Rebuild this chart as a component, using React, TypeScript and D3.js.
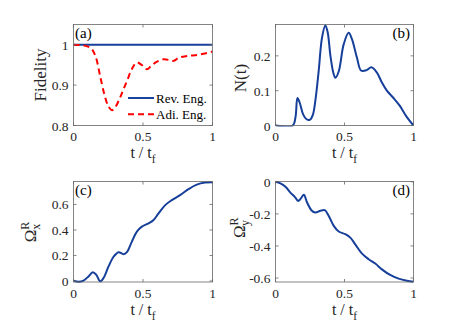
import React from "react";
import * as d3 from "d3";

// panel (a) fidelity
const tA = [0, 0.05, 0.1, 0.13, 0.16, 0.19, 0.22, 0.25, 0.276, 0.3, 0.33, 0.36, 0.39, 0.42, 0.456, 0.49, 0.528, 0.56, 0.6, 0.65, 0.7, 0.72, 0.76, 0.82, 0.9, 1];
const adiF = [1, 0.999, 0.996, 0.99, 0.97, 0.925, 0.88, 0.848, 0.838, 0.845, 0.865, 0.89, 0.915, 0.94, 0.956, 0.95, 0.939, 0.948, 0.958, 0.964, 0.961, 0.96, 0.968, 0.972, 0.975, 0.983];
const revT = [0, 1];
const revF = [1, 1];

// panel (b) N(t)
const tB = [0, 0.125, 0.145, 0.159, 0.175, 0.2, 0.225, 0.248, 0.27, 0.29, 0.313, 0.337, 0.361, 0.378, 0.398, 0.42, 0.434, 0.458, 0.494, 0.53, 0.554, 0.59, 0.62, 0.66, 0.694, 0.735, 0.77, 0.807, 0.855, 0.9, 0.952, 1];
const nB = [0, 0, 0.024, 0.079, 0.066, 0.032, 0.018, 0.016, 0.03, 0.075, 0.157, 0.252, 0.287, 0.268, 0.2, 0.15, 0.137, 0.155, 0.233, 0.266, 0.248, 0.195, 0.158, 0.159, 0.167, 0.152, 0.124, 0.1, 0.079, 0.057, 0.024, 0];

// panel (c) Omega_x^R
const tC = [0, 0.036, 0.072, 0.108, 0.139, 0.163, 0.192, 0.216, 0.252, 0.288, 0.324, 0.36, 0.384, 0.42, 0.456, 0.492, 0.54, 0.576, 0.612, 0.66, 0.707, 0.767, 0.827, 0.887, 0.947, 1];
const oxC = [0.003, -0.006, 0.003, 0.036, 0.068, 0.05, -0.003, 0.023, 0.114, 0.19, 0.226, 0.21, 0.226, 0.309, 0.387, 0.426, 0.452, 0.478, 0.53, 0.595, 0.634, 0.673, 0.72, 0.756, 0.772, 0.775];

// panel (d) Omega_y^R
const tD = [0, 0.036, 0.072, 0.108, 0.14, 0.164, 0.18, 0.205, 0.229, 0.26, 0.289, 0.325, 0.357, 0.386, 0.422, 0.458, 0.506, 0.542, 0.578, 0.627, 0.675, 0.723, 0.771, 0.831, 0.892, 0.952, 1];
const oyD = [0, -0.01, -0.031, -0.067, -0.094, -0.119, -0.108, -0.081, -0.129, -0.177, -0.192, -0.181, -0.177, -0.213, -0.275, -0.31, -0.327, -0.348, -0.39, -0.448, -0.483, -0.51, -0.546, -0.581, -0.604, -0.617, -0.623];

const xTicks = [0, 0.5, 1];
const blue = "#163f9a";
const red = "#ff0000";
const axisColor = "#666";
const font = "'Liberation Serif', 'Times New Roman', serif";

type Series = { t: number[]; v: number[]; color: string; dash?: string };

function Panel({
  x0, x1, y0, y1, yDomain, yTicks, series, label, labelRight, ylabel, legend,
}: {
  x0: number; x1: number; y0: number; y1: number;
  yDomain: [number, number]; yTicks: number[]; series: Series[];
  label: string; labelRight?: boolean; ylabel: React.ReactNode; legend?: boolean;
}) {
  const x = d3.scaleLinear().domain([0, 1]).range([x0, x1]);
  const y = d3.scaleLinear().domain(yDomain).range([y1, y0]);
  const clipId = "clip" + label.replace(/\W/g, "");
  const tl = 3;
  const fmt = (v: number) => (v === 0 ? "0" : String(v));
  return (
    <g>
      <defs>
        <clipPath id={clipId}>
          <rect x={x0} y={y0 - 1} width={x1 - x0} height={y1 - y0 + 2} />
        </clipPath>
      </defs>
      <rect x={x0} y={y0} width={x1 - x0} height={y1 - y0} fill="#fff" />
      <g clipPath={`url(#${clipId})`}>
        {series.map((s, i) => {
          const line = d3
            .line<number>()
            .x((_, j) => x(s.t[j]))
            .y((d) => y(d))
            .curve(d3.curveCatmullRom.alpha(0.5));
          return (
            <path key={i} d={line(s.v) || ""} fill="none" stroke={s.color} strokeWidth={2}
              strokeDasharray={s.dash} />
          );
        })}
      </g>
      <rect x={x0} y={y0} width={x1 - x0} height={y1 - y0} fill="none" stroke={axisColor} strokeWidth={0.8} />
      {xTicks.map((t) => (
        <g key={"x" + t}>
          <line x1={x(t)} x2={x(t)} y1={y1} y2={y1 - tl} stroke={axisColor} strokeWidth={0.8} />
          <line x1={x(t)} x2={x(t)} y1={y0} y2={y0 + tl} stroke={axisColor} strokeWidth={0.8} />
          <text x={x(t)} y={y1 + 15.5} textAnchor="middle" fontSize={13.5} fill="#262626">{fmt(t)}</text>
        </g>
      ))}
      {yTicks.map((t) => (
        <g key={"y" + t}>
          <line x1={x0} x2={x0 + tl} y1={y(t)} y2={y(t)} stroke={axisColor} strokeWidth={0.8} />
          <line x1={x1} x2={x1 - tl} y1={y(t)} y2={y(t)} stroke={axisColor} strokeWidth={0.8} />
          <text x={x0 - 5} y={y(t) + 5} textAnchor="end" fontSize={13.5} fill="#262626">{fmt(t)}</text>
        </g>
      ))}
      <text x={(x0 + x1) / 2} y={y1 + 32.5} textAnchor="middle" fontSize={16} fill="#262626">
        t / t<tspan fontSize={11.5} dy={5}>f</tspan>
      </text>
      {ylabel}
      <text x={labelRight ? x1 - 3.5 : x0 + 1.5} y={y0 + 13} textAnchor={labelRight ? "end" : "start"}
        fontSize={15} fill="#000">{label}</text>
      {legend && (
        <g>
          <line x1={128} x2={154} y1={y(0.868)} y2={y(0.868)} stroke={blue} strokeWidth={2} />
          <text x={156} y={y(0.868) + 4.5} fontSize={13} fill="#000">Rev. Eng.</text>
          <line x1={128} x2={154} y1={y(0.828)} y2={y(0.828)} stroke={red} strokeWidth={2} strokeDasharray="6,4" />
          <text x={156} y={y(0.828) + 4.5} fontSize={13} fill="#000">Adi. Eng.</text>
        </g>
      )}
    </g>
  );
}

function Omega({ cx, cy, sub }: { cx: number; cy: number; sub: string }) {
  return (
    <text transform={`translate(${cx},${cy}) rotate(-90)`} textAnchor="middle" fontSize={17} fill="#262626">
      Ω<tspan fontSize={12} dy={-7}>R</tspan>
      <tspan fontSize={12} dx={-8} dy={11}>{sub}</tspan>
    </text>
  );
}

export default function App() {
  const L: [number, number] = [73.5, 212.5];
  const R: [number, number] = [275.5, 413.5];
  const T: [number, number] = [24.5, 125.5];
  const B: [number, number] = [181.5, 282];
  return (
    <svg width={457} height={331} style={{ display: "block", position: "absolute", left: 0, top: 0, fontFamily: font }}>
      <rect width={457} height={331} fill="#fff" />
      <Panel x0={L[0]} x1={L[1]} y0={T[0]} y1={T[1]} yDomain={[0.8, 1.05]} yTicks={[0.8, 0.9, 1]}
        series={[{ t: revT, v: revF, color: blue }, { t: tA, v: adiF, color: red, dash: "6,4" }]}
        label="(a)" legend
        ylabel={<text transform={`translate(46,75) rotate(-90)`} textAnchor="middle" fontSize={17} fill="#262626">Fidelity</text>} />
      <Panel x0={R[0]} x1={R[1]} y0={T[0]} y1={T[1]} yDomain={[0, 0.29]} yTicks={[0, 0.1, 0.2]}
        series={[{ t: tB, v: nB, color: blue }]} label="(b)" labelRight
        ylabel={<text transform={`translate(246,78) rotate(-90)`} textAnchor="middle" fontSize={17} fill="#262626">N(t)</text>} />
      <Panel x0={L[0]} x1={L[1]} y0={B[0]} y1={B[1]} yDomain={[-0.008, 0.78]} yTicks={[0, 0.2, 0.4, 0.6]}
        series={[{ t: tC, v: oxC, color: blue }]} label="(c)"
        ylabel={<Omega cx={36} cy={232} sub="x" />} />
      <Panel x0={R[0]} x1={R[1]} y0={B[0]} y1={B[1]} yDomain={[-0.625, 0.002]} yTicks={[0, -0.2, -0.4, -0.6]}
        series={[{ t: tD, v: oyD, color: blue }]} label="(d)" labelRight
        ylabel={<Omega cx={245} cy={228} sub="y" />} />
    </svg>
  );
}
